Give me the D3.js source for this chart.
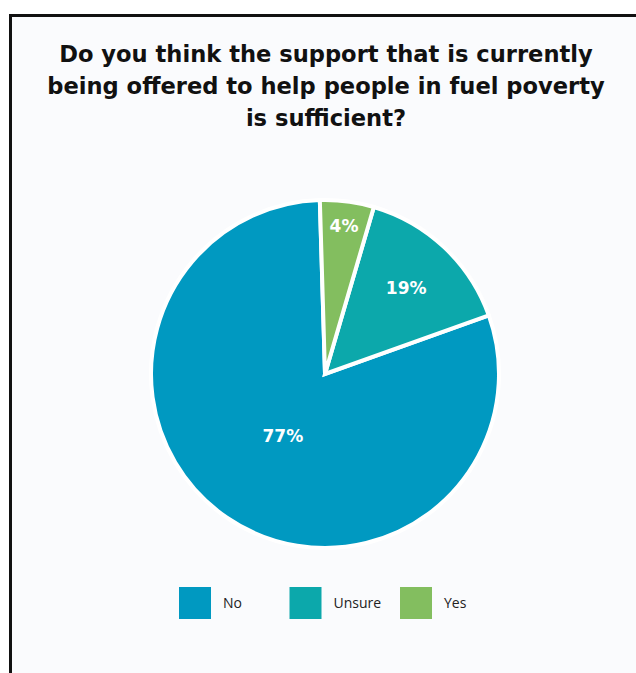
<!DOCTYPE html>
<html>
<head>
<meta charset="utf-8">
<script src="https://cdn.jsdelivr.net/npm/d3@7"></script>
<style>
  html, body { margin: 0; padding: 0; background: #ffffff; }
  svg { display: block; }
</style>
</head>
<body>
<div id="chart"></div>
<script>
// Data (slice sizes follow the drawn wedges, labels follow the printed text)
const categories = ["No", "Unsure", "Yes"];
const shares = [80, 15, 5];
const shareLabels = ["77%", "19%", "4%"];
const titleLines = [
  "Do you think the support that is currently",
  "being offered to help people in fuel poverty",
  "is sufficient?"
];

const W = 636, H = 673;
const COLORS = { No: "#0099c1", Unsure: "#0ca8ab", Yes: "#83be5f" };
const cx = 325, cy = 374, R = 174;
// how far out (fraction of radius) each label sits
const labelDist = { No: 0.43, Unsure: 0.68, Yes: 0.86 };

const svg = d3.select("#chart").append("svg")
  .attr("width", W)
  .attr("height", H);

// panel
svg.append("rect")
  .attr("x", 10.5).attr("y", 15.5)
  .attr("width", W + 20).attr("height", H + 20)
  .attr("fill", "#fafbfd")
  .attr("stroke", "#111")
  .attr("stroke-width", 3);

// title
svg.append("text")
  .attr("text-anchor", "middle")
  .attr("font-family", "'DejaVu Sans', sans-serif")
  .attr("font-weight", "bold")
  .attr("font-size", 22.6)
  .attr("fill", "#111")
  .selectAll("tspan")
  .data(titleLines)
  .join("tspan")
  .attr("x", 326)
  .attr("y", (d, i) => 62 + i * 32)
  .text(d => d);

// pie: clockwise Yes, Unsure, No starting just left of twelve o'clock
const rows = categories.map((c, i) => ({ cat: c, value: shares[i], label: shareLabels[i] }));
const order = ["Yes", "Unsure", "No"];
const pie = d3.pie()
  .value(d => d.value)
  .sort((a, b) => order.indexOf(a.cat) - order.indexOf(b.cat))
  .startAngle(-1.7 * Math.PI / 180)
  .endAngle(2 * Math.PI - 1.7 * Math.PI / 180);

const arc = d3.arc().innerRadius(0).outerRadius(R);
const arcs = pie(rows);

const g = svg.append("g").attr("transform", `translate(${cx},${cy})`);

g.selectAll("path")
  .data(arcs)
  .join("path")
  .attr("d", arc)
  .attr("fill", d => COLORS[d.data.cat])
  .attr("stroke", "#ffffff")
  .attr("stroke-width", 4)
  .attr("stroke-linejoin", "miter");

g.selectAll("text.val")
  .data(arcs)
  .join("text")
  .attr("class", "val")
  .attr("transform", d => {
    const a = (d.startAngle + d.endAngle) / 2;
    const r = R * labelDist[d.data.cat];
    return `translate(${Math.sin(a) * r},${-Math.cos(a) * r})`;
  })
  .attr("text-anchor", "middle")
  .attr("dy", "0.35em")
  .attr("font-family", "'DejaVu Sans', sans-serif")
  .attr("font-weight", "bold")
  .attr("font-size", 17)
  .attr("fill", "#ffffff")
  .text(d => d.data.label);

// legend
const legend = svg.append("g").attr("transform", "translate(179,587)");
const item = legend.selectAll("g")
  .data(categories)
  .join("g")
  .attr("transform", (d, i) => `translate(${i * 110.5},0)`);

item.append("rect")
  .attr("width", 32).attr("height", 32)
  .attr("fill", d => COLORS[d]);

item.append("text")
  .attr("x", 44)
  .attr("y", 21)
  .attr("font-family", "'Open Sans', sans-serif")
  .attr("font-size", 14)
  .attr("fill", "#222")
  .text(d => d);
</script>
</body>
</html>
